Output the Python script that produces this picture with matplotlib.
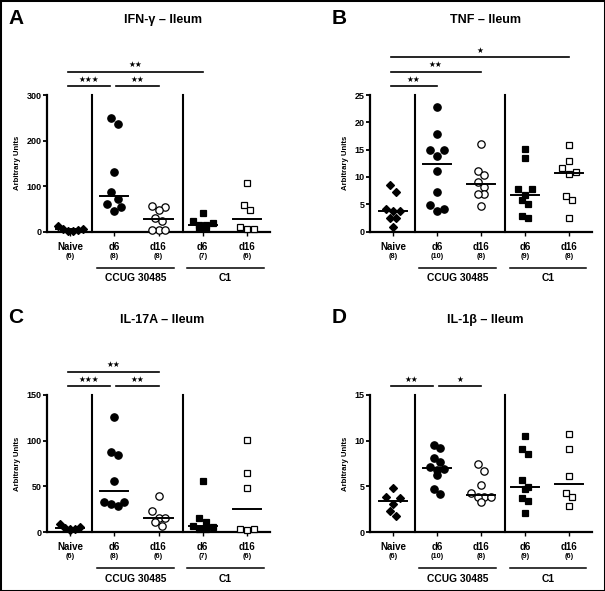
import matplotlib
matplotlib.use('Agg')
import matplotlib.pyplot as plt
import numpy as np
from matplotlib.transforms import blended_transform_factory
from matplotlib.patches import Rectangle

plt.rcParams['font.family'] = ['Liberation Sans', 'DejaVu Sans']
plt.rcParams['font.weight'] = 'bold'

# ---------------- data ----------------
categories = ['Naive', 'd6', 'd16', 'd6', 'd16']
groups = ['CCUG 30485', 'C1']

# A: IFN-gamma
ifng_naive = [12, 5, 5, 4, 1.5, 1]
ifng_ccug_d6 = [250, 236, 131, 86, 71, 60, 54, 46]
ifng_ccug_d16 = [57, 53, 48, 29, 24, 3, 3, 3]
ifng_c1_d6 = [40, 24, 18, 14, 14, 7, 7]
ifng_c1_d16 = [106, 58, 47, 10, 5, 5]
ifng_n = [6, 8, 8, 7, 6]

# B: TNF
tnf_naive = [8.5, 7.3, 4.1, 3.7, 3.7, 2.4, 2.4, 0.8]
tnf_ccug_d6 = [22.85, 17.8, 15.0, 15.0, 13.8, 11.1, 7.2, 4.9, 4.05, 3.7]
tnf_ccug_d16 = [16.0, 11.0, 10.4, 9.15, 8.2, 6.8, 6.8, 4.6]
tnf_c1_d6 = [15.05, 13.5, 7.7, 7.7, 6.6, 5.85, 5.0, 2.75, 2.5]
tnf_c1_d16 = [15.9, 13.0, 11.6, 10.9, 10.55, 6.5, 5.85, 2.5]
tnf_n = [8, 10, 8, 9, 8]

# C: IL-17A
il17_naive = [8.7, 5.8, 4.7, 3.3, 2.9, 2.2]
il17_ccug_d6 = [126, 87.7, 84.5, 56, 32.8, 32.4, 31, 29]
il17_ccug_d16 = [39.7, 22.9, 15.3, 15.3, 10.9, 6.2]
il17_c1_d6 = [56, 14.9, 10.6, 6.2, 5.8, 3.3, 3.3]
il17_c1_d16 = [100.5, 64.8, 47.7, 3.3, 3.3, 2.2]
il17_n = [6, 8, 6, 7, 6]

# D: IL-1beta
il1b_naive = [4.77, 3.82, 3.68, 3.06, 2.29, 1.78]
il1b_ccug_d6 = [9.57, 9.25, 8.08, 7.64, 7.1, 6.88, 6.77, 6.26, 4.73, 4.19]
il1b_ccug_d16 = [7.43, 6.7, 5.13, 4.26, 3.82, 3.82, 3.82, 3.24]
il1b_c1_d6 = [10.48, 9.1, 8.55, 5.64, 4.91, 4.66, 3.71, 3.35, 2.07]
il1b_c1_d16 = [10.74, 9.06, 6.12, 4.3, 3.79, 2.88]
il1b_n = [6, 10, 8, 9, 6]

# significance: (from category, to category, stars)
ifng_sig = [(0, 1, 3), (1, 2, 2), (0, 3, 2)]
tnf_sig = [(0, 1, 2), (0, 2, 2), (0, 4, 1)]
il17_sig = [(0, 1, 3), (1, 2, 2), (0, 2, 2)]
il1b_sig = [(0, 1, 2), (1, 2, 1)]

panels = [
    dict(letter='A', title='IFN-γ – Ileum', ymax=300, yticks=[0, 100, 200, 300],
         series=[ifng_naive, ifng_ccug_d6, ifng_ccug_d16, ifng_c1_d6, ifng_c1_d16],
         n=ifng_n, sig=ifng_sig, box=(47, 95, 270, 231.5), small_naive=True),
    dict(letter='B', title='TNF – Ileum', ymax=25, yticks=[0, 5, 10, 15, 20, 25],
         series=[tnf_naive, tnf_ccug_d6, tnf_ccug_d16, tnf_c1_d6, tnf_c1_d16],
         n=tnf_n, sig=tnf_sig, box=(370, 95, 592, 231.5), small_naive=False),
    dict(letter='C', title='IL-17A – Ileum', ymax=150, yticks=[0, 50, 100, 150],
         series=[il17_naive, il17_ccug_d6, il17_ccug_d16, il17_c1_d6, il17_c1_d16],
         n=il17_n, sig=il17_sig, box=(47, 395, 270, 532), small_naive=True),
    dict(letter='D', title='IL-1β – Ileum', ymax=15, yticks=[0, 5, 10, 15],
         series=[il1b_naive, il1b_ccug_d6, il1b_ccug_d16, il1b_c1_d6, il1b_c1_d16],
         n=il1b_n, sig=il1b_sig, box=(370, 395, 592, 532), small_naive=False),
]

W, H = 605, 591
fig = plt.figure(figsize=(W / 100, H / 100), dpi=100)
fig.add_artist(Rectangle((0, 0), 1, 1, transform=fig.transFigure, fill=False,
                         lw=2.2, ec='black'))

XLIM = (-0.52, 4.52)
STEP_PX = 6.8
ROW_PX = 7.0

styles = [
    dict(marker='D', mfc='black', ms=4.2),
    dict(marker='o', mfc='black', ms=5.3),
    dict(marker='o', mfc='white', ms=5.3),
    dict(marker='s', mfc='black', ms=4.9),
    dict(marker='s', mfc='white', ms=4.9),
]


def swarm_offsets(vals, ypx, xpx, step=STEP_PX, rowh=ROW_PX):
    """Prism-like scatter: points within one marker height form a row that is
    spread symmetrically, lowest values nearest the centre."""
    vals = np.asarray(vals, float)
    order = np.argsort(-vals, kind='stable')
    rows = []
    for i in order:
        if rows and (vals[rows[-1][0]] - vals[i]) * ypx <= rowh:
            rows[-1].append(i)
        else:
            rows.append([i])
    offs = np.zeros(len(vals))
    for r in rows:
        k = len(r)
        pos = [(j - (k - 1) / 2) * step for j in range(k)]
        pos = sorted(pos, key=lambda x: (abs(x), -x))
        asc = sorted(r, key=lambda idx: vals[idx])
        for idx, x in zip(asc, pos):
            offs[idx] = x
    return offs / xpx


for p in panels:
    l, t, r, b = p['box']
    ax = fig.add_axes([l / W, 1 - b / H, (r - l) / W, (b - t) / H])
    axh = b - t
    axw = r - l
    ax.set_xlim(*XLIM)
    ax.set_ylim(0, p['ymax'])
    ypx = axh / p['ymax']
    xpx = axw / (XLIM[1] - XLIM[0])

    for s in ['top', 'right']:
        ax.spines[s].set_visible(False)
    for s in ['left', 'bottom']:
        ax.spines[s].set_linewidth(1.6)
    ax.set_yticks(p['yticks'])
    ax.set_xticks(range(5))
    ax.set_xticklabels([])
    ax.tick_params(axis='y', length=3, width=1.3, pad=1, labelsize=6.5)
    ax.tick_params(axis='x', length=3, width=1.0)
    for lab in ax.get_yticklabels():
        lab.set_fontweight('bold')
    ax.set_ylabel('Arbitrary Units', fontsize=5.6, fontweight='bold', labelpad=4)

    # separators
    for xs_ in (0.5, 2.55):
        ax.plot([xs_, xs_], [0, p['ymax']], color='black', lw=1.5, clip_on=False)

    # points and medians
    for i, vals in enumerate(p['series']):
        st = dict(styles[i])
        step, rowh = STEP_PX, ROW_PX
        if i == 0 and p['small_naive']:
            st['ms'] = 3.6
            step, rowh = 5.0, 5.5
        offs = swarm_offsets(vals, ypx, xpx, step, rowh)
        ax.plot(i + offs, vals, linestyle='none', marker=st['marker'],
                mfc=st['mfc'], mec='black', mew=0.9, ms=st['ms'], clip_on=False,
                zorder=3)
        med = np.median(vals)
        ax.plot([i - 0.32, i + 0.32], [med, med], color='black', lw=1.4, zorder=4,
                clip_on=False)

    trans = blended_transform_factory(ax.transData, ax.transAxes)

    # category labels
    for i, (c, n) in enumerate(zip(categories, p['n'])):
        ax.text(i, -15.5 / axh, c, transform=trans, ha='center', va='center',
                fontsize=7, fontweight='bold')
        ax.text(i, -25 / axh, f'({n})', transform=trans, ha='center', va='center',
                fontsize=5.3, fontweight='bold')
    # group labels
    for (x0, x1), g in zip([(0.6, 2.35), (2.65, 4.38)], groups):
        ax.plot([x0, x1], [-36 / axh] * 2, transform=trans, color='black', lw=1.1,
                clip_on=False)
        ax.text((x0 + x1) / 2, -46.5 / axh, g, transform=trans, ha='center',
                va='center', fontsize=7.4, fontweight='bold')

    # significance bars
    levels_px = [9, 23.5, 38]
    sig_sorted = sorted(p['sig'], key=lambda s: (s[1] - s[0], s[0]))
    level_used = {}
    for (a, c, nst) in sig_sorted:
        lev = 0
        while any(not (c <= a2 or a >= c2) for (a2, c2, _) in level_used.get(lev, [])):
            lev += 1
        level_used.setdefault(lev, []).append((a, c, nst))
    for lev, bars in level_used.items():
        yb = 1 + levels_px[lev] / axh
        for (a, c, nst) in bars:
            x0 = a - 0.05
            if any(c2 == a for (_, c2, _) in bars):
                x0 = a + 0.04
            x1 = c
            if any(a2 == c for (a2, _, _) in bars):
                x1 = c - 0.1
            ax.plot([x0, x1], [yb, yb], transform=trans, color='black', lw=1.2,
                    clip_on=False)
            ax.text((x0 + x1) / 2, yb + 7 / axh, '★' * nst, transform=trans,
                    ha='center', va='center', fontsize=5.5,
                    family=['DejaVu Sans'])

    # title and letter
    cx = (l + r) / 2 + 4
    fig.text(cx / W, 1 - (t - 75) / H, p['title'], ha='center', va='center',
             fontsize=9, fontweight='bold')
    lx = 8 if l < 300 else 332
    fig.text(lx / W, 1 - (t - 77) / H, p['letter'], ha='left', va='center',
             fontsize=15, fontweight='bold')

fig.savefig('out.png', dpi=100)
